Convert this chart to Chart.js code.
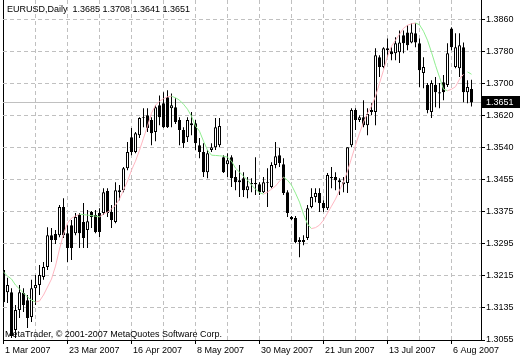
<!DOCTYPE html>
<html><head><meta charset="utf-8">
<script src="https://cdn.jsdelivr.net/npm/chart.js@4.4.0/dist/chart.umd.min.js"></script>
<style>html,body{margin:0;padding:0;background:#fff;}canvas{display:block;}</style>
</head><body>
<canvas id="c" width="520" height="360"></canvas>
<script>
const symbolTitle = 'EURUSD,Daily';
const copyrightText = 'MetaTrader, \u00a9 2001-2007 MetaQuotes Software Corp.';
const dateLabels = ['1 Mar 2007','23 Mar 2007','16 Apr 2007','8 May 2007','30 May 2007','21 Jun 2007','13 Jul 2007','6 Aug 2007'];
const barsPerDateLabel = 16;
const priceTickValues = [1.3055,1.31355,1.3216,1.32965,1.3377,1.34575,1.3538,1.36185,1.3699,1.37795,1.3860];
const priceTickLabels = ['1.3055','1.3135','1.3215','1.3295','1.3375','1.3455','1.3540','1.3620','1.3700','1.3780','1.3860'];

const opens = [
1.3231,1.3175,1.3175,1.3080,1.3130,1.3173,1.3155,1.3113,1.3185,1.3193,
1.3213,1.3238,1.3318,1.3321,1.3318,1.3389,1.3323,1.3343,1.3323,1.3369,
1.3351,1.3331,1.3376,1.3369,1.3374,1.3374,1.3429,1.3376,1.3351,1.3426,
1.3431,1.3486,1.3564,1.3527,1.3569,1.3612,1.3619,1.3607,1.3577,1.3644,
1.3649,1.3664,1.3637,1.3639,1.3607,1.3582,1.3564,1.3599,1.3599,1.3544,
1.3527,1.3476,1.3532,1.3539,1.3544,1.3514,1.3496,1.3514,1.3464,1.3451,
1.3461,1.3431,1.3449,1.3449,1.3446,1.3426,1.3449,1.3439,1.3494,1.3519,
1.3496,1.3426,1.3364,1.3361,1.3306,1.3301,1.3311,1.3389,1.3414,1.3424,
1.3399,1.3386,1.3464,1.3464,1.3456,1.3451,1.3449,1.3544,1.3632,1.3607,
1.3614,1.3594,1.3632,1.3627,1.3765,1.3740,1.3787,1.3780,1.3775,1.3777,
1.3820,1.3827,1.3802,1.3825,1.3800,1.3725,1.3695,1.3627,1.3695,1.3677,
1.3702,1.3695,1.3837,1.3740,1.3737,1.3790,1.3677,1.3685];
const highs = [
1.3241,1.3211,1.3185,1.3143,1.3193,1.3185,1.3168,1.3206,1.3218,1.3243,
1.3251,1.3338,1.3336,1.3331,1.3394,1.3411,1.3343,1.3356,1.3374,1.3374,
1.3399,1.3381,1.3379,1.3381,1.3386,1.3436,1.3436,1.3394,1.3451,1.3444,
1.3489,1.3552,1.3587,1.3577,1.3614,1.3637,1.3637,1.3614,1.3644,1.3669,
1.3677,1.3682,1.3674,1.3662,1.3614,1.3589,1.3614,1.3627,1.3607,1.3562,
1.3549,1.3532,1.3549,1.3612,1.3612,1.3519,1.3524,1.3519,1.3481,1.3494,
1.3476,1.3464,1.3461,1.3514,1.3451,1.3464,1.3486,1.3501,1.3552,1.3537,
1.3511,1.3431,1.3366,1.3366,1.3313,1.3318,1.3394,1.3436,1.3436,1.3436,
1.3406,1.3474,1.3489,1.3476,1.3461,1.3464,1.3539,1.3637,1.3637,1.3619,
1.3657,1.3637,1.3649,1.3787,1.3770,1.3790,1.3812,1.3790,1.3815,1.3832,
1.3832,1.3845,1.3850,1.3850,1.3812,1.3765,1.3700,1.3707,1.3715,1.3700,
1.3720,1.3800,1.3840,1.3825,1.3825,1.3802,1.3707,1.3708];
const lows = [
1.3143,1.3148,1.3060,1.3060,1.3110,1.3125,1.3085,1.3100,1.3143,1.3168,
1.3206,1.3231,1.3251,1.3296,1.3313,1.3311,1.3251,1.3256,1.3318,1.3286,
1.3286,1.3286,1.3336,1.3323,1.3313,1.3369,1.3364,1.3336,1.3348,1.3406,
1.3426,1.3481,1.3519,1.3524,1.3562,1.3589,1.3577,1.3544,1.3554,1.3594,
1.3587,1.3587,1.3589,1.3597,1.3544,1.3537,1.3552,1.3569,1.3532,1.3511,
1.3464,1.3461,1.3527,1.3532,1.3539,1.3474,1.3464,1.3439,1.3431,1.3414,
1.3414,1.3411,1.3426,1.3419,1.3419,1.3424,1.3389,1.3436,1.3486,1.3489,
1.3419,1.3364,1.3356,1.3298,1.3263,1.3293,1.3306,1.3386,1.3401,1.3376,
1.3376,1.3381,1.3436,1.3431,1.3419,1.3426,1.3424,1.3539,1.3582,1.3602,
1.3589,1.3569,1.3619,1.3594,1.3715,1.3737,1.3765,1.3757,1.3757,1.3750,
1.3775,1.3782,1.3800,1.3790,1.3690,1.3687,1.3624,1.3612,1.3639,1.3637,
1.3657,1.3690,1.3782,1.3737,1.3715,1.3652,1.3649,1.3641];
const closes = [
1.3150,1.3193,1.3065,1.3130,1.3175,1.3143,1.3110,1.3185,1.3193,1.3218,
1.3238,1.3318,1.3306,1.3306,1.3389,1.3318,1.3286,1.3286,1.3364,1.3323,
1.3311,1.3353,1.3364,1.3326,1.3326,1.3426,1.3374,1.3356,1.3431,1.3431,
1.3486,1.3527,1.3527,1.3574,1.3612,1.3614,1.3587,1.3574,1.3639,1.3614,
1.3589,1.3589,1.3644,1.3602,1.3582,1.3549,1.3607,1.3594,1.3549,1.3527,
1.3476,1.3524,1.3539,1.3589,1.3592,1.3476,1.3506,1.3461,1.3451,1.3456,
1.3431,1.3441,1.3446,1.3446,1.3426,1.3451,1.3451,1.3494,1.3516,1.3499,
1.3424,1.3374,1.3358,1.3301,1.3301,1.3306,1.3386,1.3414,1.3424,1.3399,
1.3386,1.3469,1.3461,1.3456,1.3451,1.3446,1.3539,1.3632,1.3607,1.3614,
1.3594,1.3622,1.3627,1.3770,1.3740,1.3787,1.3782,1.3772,1.3800,1.3802,
1.3800,1.3795,1.3827,1.3802,1.3732,1.3740,1.3632,1.3700,1.3677,1.3674,
1.3677,1.3775,1.3790,1.3790,1.3795,1.3677,1.3690,1.3651];

const maValues = [
1.32255,1.32155,1.32080,1.31929,1.31829,1.31729,1.31628,1.31553,1.31503,1.31528,
1.31679,1.31879,1.32080,1.32406,1.32832,1.33208,1.33484,1.33610,1.33660,1.33710,
1.33697,1.33685,1.33672,1.33660,1.33642,1.33710,1.33760,1.33835,1.33936,1.34086,
1.34312,1.34537,1.34813,1.35039,1.35315,1.35616,1.35917,1.36243,1.36443,1.36544,
1.36606,1.36656,1.36669,1.36631,1.36569,1.36468,1.36343,1.36167,1.35917,1.35791,
1.35541,1.35315,1.35189,1.35182,1.35174,1.35164,1.35139,1.35039,1.34863,1.34763,
1.34663,1.34562,1.34437,1.34337,1.34249,1.34211,1.34262,1.34337,1.34412,1.34537,
1.34638,1.34562,1.34437,1.34236,1.34011,1.33710,1.33459,1.33346,1.33371,1.33434,
1.33559,1.33735,1.33910,1.34086,1.34312,1.34512,1.34788,1.35114,1.35440,1.35741,
1.36017,1.36243,1.36418,1.36669,1.36995,1.37321,1.37672,1.37923,1.38073,1.38224,
1.38374,1.38450,1.38487,1.38507,1.38462,1.38299,1.38073,1.37772,1.37446,1.37146,
1.36845,1.36807,1.36845,1.36907,1.37095,1.37221];
const maTail = [1.37278, 1.37221];

const UP_COLOR = '#ffb6c1', DOWN_COLOR = '#90ee90';
const GRID = '#c0c0c0';
const FONT = '"Liberation Sans", Arial, sans-serif';
Chart.defaults.font.family = FONT;
Chart.defaults.font.size = 9;
Chart.defaults.color = '#000';

const n = closes.length;
const idx = closes.map((_, i) => i);
const wickData = idx.map(i => ({x: i, y: [lows[i], highs[i]]}));
const bodyData = idx.map(i => ({x: i, y: [opens[i], closes[i]]}));
const bodyFill = idx.map(i => closes[i] >= opens[i] ? '#ffffff' : '#000000');
const maData = maValues.map((v, i) => ({x: i, y: v}));
const maTailData = maTail.map((v, j) => ({x: maValues.length + j, y: v}));
const segColor = ctx => ctx.p1.parsed.y > ctx.p0.parsed.y ? UP_COLOR : DOWN_COLOR;

const fmt = v => v.toFixed(4);

const overlay = {
  id: 'overlay',
  beforeDatasetsDraw(chart) {
    const {ctx, chartArea: a, scales: {y}} = chart;
    const py = Math.floor(y.getPixelForValue(closes[n - 1])) + 0.5;
    ctx.save();
    ctx.strokeStyle = GRID; ctx.lineWidth = 1;
    ctx.beginPath(); ctx.moveTo(a.left, py); ctx.lineTo(a.right, py); ctx.stroke();
    ctx.restore();
  },
  afterDraw(chart) {
    const {ctx, chartArea: a, scales: {y}} = chart;
    ctx.save();
    ctx.font = '9px ' + FONT;
    ctx.fillStyle = '#000';
    ctx.textBaseline = 'middle';
    ctx.textAlign = 'left';
    const t = symbolTitle + '  ' + [opens[n-1], highs[n-1], lows[n-1], closes[n-1]].map(fmt).join(' ');
    ctx.fillText(t, a.left + 4, 10);
    ctx.fillText(copyrightText, a.left + 2, a.bottom - 5);
    const py = Math.floor(y.getPixelForValue(closes[n - 1])) + 0.5;
    ctx.fillStyle = '#000';
    ctx.fillRect(a.right + 1, Math.round(py - 6.5), chart.width - a.right - 1, 12);
    ctx.fillStyle = '#fff';
    ctx.fillText(fmt(closes[n - 1]), a.right + 5, py);
    ctx.restore();
  }
};

new Chart(document.getElementById('c'), {
  type: 'bar',
  data: {
    datasets: [
      {type: 'bar', data: wickData, backgroundColor: '#000', borderWidth: 0, barThickness: 1,
       grouped: false, inflateAmount: 0, order: 3},
      {type: 'bar', data: bodyData, backgroundColor: bodyFill, borderColor: '#000', borderWidth: 1,
       borderSkipped: false, barThickness: 3, grouped: false, inflateAmount: 0, order: 2},
      {type: 'line', data: maData, borderWidth: 1, pointRadius: 0, tension: 0, fill: false,
       borderColor: UP_COLOR, segment: {borderColor: segColor}, order: 1},
      {type: 'line', data: maTailData, borderWidth: 1, pointRadius: 0, tension: 0, fill: false,
       borderColor: DOWN_COLOR, segment: {borderColor: segColor}, order: 1}
    ]
  },
  options: {
    responsive: false, animation: false, devicePixelRatio: 1,
    layout: {padding: {left: 3, right: 0, top: 0, bottom: 0}},
    plugins: {legend: {display: false}, tooltip: {enabled: false}, title: {display: false}},
    scales: {
      x: {
        type: 'linear', min: -0.125, max: 119.375, offset: false,
        afterBuildTicks: s => {
          const t = [];
          for (let v = 0; v <= (dateLabels.length - 1) * barsPerDateLabel; v += barsPerDateLabel / 2) t.push({value: v});
          s.ticks = t;
        },
        afterFit: s => { s.height = 20; s.paddingLeft = 0; s.paddingRight = 0; },
        ticks: {autoSkip: false, maxRotation: 0, minRotation: 0, align: 'start', labelOffset: 1.5, padding: 1,
          color: '#000', font: {size: 9},
          callback: v => (v % barsPerDateLabel === 0) ? dateLabels[v / barsPerDateLabel] : ''},
        grid: {offset: false, drawOnChartArea: true, lineWidth: 1, tickLength: 4,
          color: c => c.index === 0 ? '#000' : GRID,
          tickColor: c => (c.tick && c.tick.value % barsPerDateLabel === 0) ? '#000' : 'rgba(0,0,0,0)'},
        border: {display: true, color: '#000', width: 1, dash: c => c.index === 0 ? [] : [4, 3]}
      },
      y: {
        type: 'linear', position: 'right', min: 1.3055, max: 1.39084,
        afterBuildTicks: s => { s.ticks = priceTickValues.map(v => ({value: v})); },
        afterFit: s => { s.width = 39; s.paddingTop = 0; s.paddingBottom = 0; },
        ticks: {autoSkip: false, padding: 1, color: '#000', font: {size: 9},
          callback: (v, i) => priceTickLabels[i]},
        grid: {lineWidth: 1, tickLength: 4, tickColor: '#000',
          color: c => c.index === 0 ? 'rgba(0,0,0,0)' : GRID},
        border: {display: true, color: '#000', width: 1, dash: [4, 3]}
      }
    }
  },
  plugins: [overlay]
});
</script>
</body></html>
